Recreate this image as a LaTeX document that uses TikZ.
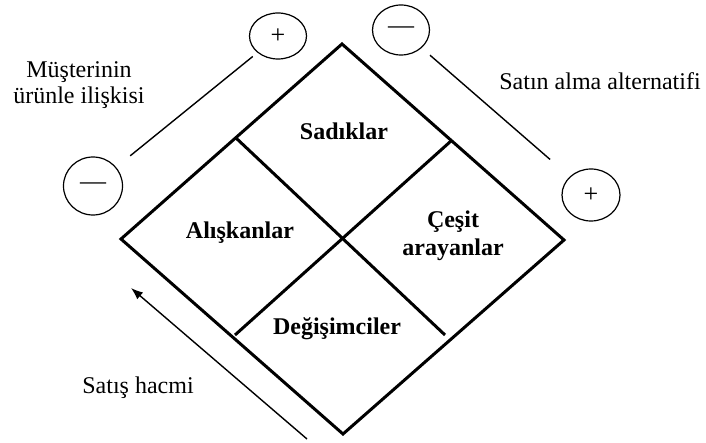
\documentclass[tikz,border=0pt]{standalone}
\usepackage{fontspec}
\setmainfont{Liberation Serif}
\usetikzlibrary{arrows.meta,shapes.geometric}
\tikzset{
  sign/.style={draw,ellipse,line width=0.6pt,minimum width=28.5pt,minimum height=25pt,inner sep=0pt,font=\fontsize{13}{14}\selectfont},
  frame/.style={line width=1.5pt},
  guide/.style={line width=0.7pt},
  segment/.style={font=\bfseries\fontsize{12}{14}\selectfont,align=center},
  caption/.style={font=\fontsize{12}{13}\selectfont,align=center},
}
\begin{document}
\begin{tikzpicture}[x=0.5pt,y=-0.5pt]
  \useasboundingbox (0,0) rectangle (706,443);
  % diamond
  \coordinate (top) at (342,44);
  \coordinate (left) at (121,239);
  \coordinate (right) at (564,240);
  \coordinate (bottom) at (343,434);
  \draw[frame] (top) -- (right) -- (bottom) -- (left) -- cycle;
  % quadrant lines
  \coordinate (tl) at (236,138);
  \coordinate (br) at (445,335);
  \coordinate (tr) at (451,141);
  \coordinate (bl) at (235,335);
  \draw[frame] (tl) -- (br);
  \draw[frame] (tr) -- (bl);
  % signs and axes
  \node[sign,minimum height=23pt] (plusA) at (278,36) {+};
  \node[sign,minimum width=29.5pt,minimum height=29pt] (minusA) at (93,186) {---};
  \node[sign] (minusB) at (401,30) {---};
  \node[sign,minimum width=29pt,minimum height=26pt] (plusB) at (591,195) {+};
  \draw[guide,shorten <=3pt,shorten >=9pt] (plusA) -- (minusA);
  \draw[guide,shorten <=5.5pt,shorten >=13pt] (minusB) -- (plusB);
  \coordinate (tail) at (307,439);
  \coordinate (head) at (131,288);
  \draw[guide,-{Latex[length=6pt,width=4.5pt]}] (tail) -- (head);
  % labels
  \node[caption] (relation) at (79,85) {Müşterinin\\ürünle ilişkisi};
  \node[caption] (choice) at (600,81) {Satın alma alternatifi};
  \node[caption] (volume) at (138,388) {Satış hacmi};
  \node[segment] (loyal) at (344,131) {Sadıklar};
  \node[segment] (habit) at (240,233) {Alışkanlar};
  \node[segment] (variety) at (453,236) {Çeşit\\arayanlar};
  \node[segment] (switch) at (337,329) {Değişimciler};
\end{tikzpicture}
\end{document}
